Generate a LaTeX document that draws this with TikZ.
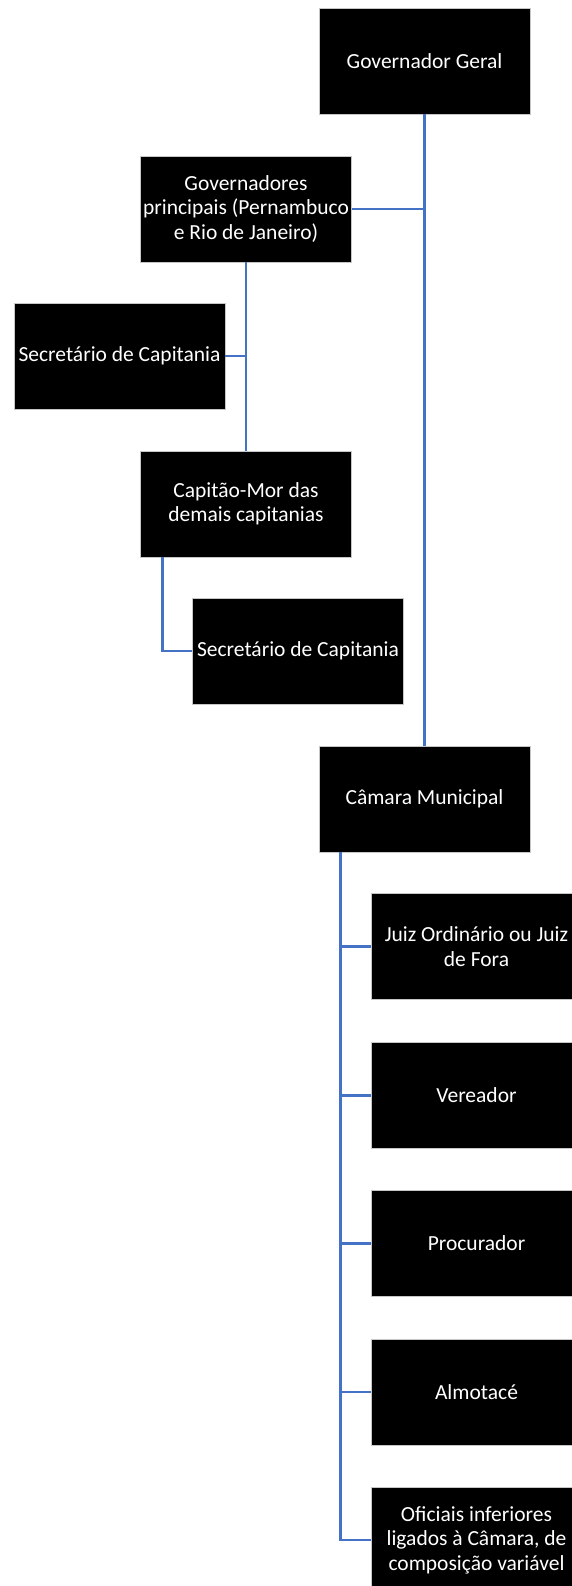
\documentclass[tikz,border=0pt]{standalone}
\usepackage{fontspec}
\setmainfont{Carlito}
\begin{document}
\begin{tikzpicture}[x=1pt,y=-1pt,
  orgbox/.style={draw=gray!45, line width=0.8pt, fill=black, text=white,
    minimum width=211pt, minimum height=106pt, inner sep=0pt, align=center,
    font=\fontsize{21.5}{24.5}\selectfont},
  link/.style={draw={rgb,255:red,68;green,114;blue,196}, line width=2.4pt}]
\useasboundingbox (0,0) rectangle (571,1586);
\node[orgbox] (gg) at (424.5,61) {Governador Geral};
\node[orgbox] (gp) at (246,209) {Governadores\\principais (Pernambuco\\e Rio de Janeiro)};
\node[orgbox] (s1) at (119.5,356) {Secretário de Capitania};
\node[orgbox] (cm) at (246,504) {Capitão-Mor das\\demais capitanias};
\node[orgbox] (s2) at (298,651) {Secretário de Capitania};
\node[orgbox] (cam) at (424.5,799) {Câmara Municipal};
\node[orgbox] (juiz) at (476.5,946.5) {Juiz Ordinário ou Juiz\\de Fora};
\node[orgbox] (ver) at (476.5,1095.5) {Vereador};
\node[orgbox] (pro) at (476.5,1243.5) {Procurador};
\node[orgbox] (alm) at (476.5,1392) {Almotacé};
\node[orgbox] (of) at (476.5,1540) {Oficiais inferiores\\ligados à Câmara, de\\composição variável};
% trunk
\draw[link] (gg.south) -- (cam.north);
\draw[link] (gp.east) -- (gp.east -| gg.south);
% governadores principais
\draw[link] (gp.south) -- (cm.north);
\draw[link] (s1.east) -- (s1.east -| gp.south);
% capitao-mor
\coordinate (cmx) at ([xshift=22.5pt]cm.south west);
\draw[link] (cmx) |- (s2.west);
% camara
\coordinate (camx) at ([xshift=22pt]cam.south west);
\draw[link] (camx) |- (of.west);
\draw[link] (juiz.west -| camx) -- (juiz.west);
\draw[link] (ver.west -| camx) -- (ver.west);
\draw[link] (pro.west -| camx) -- (pro.west);
\draw[link] (alm.west -| camx) -- (alm.west);
\end{tikzpicture}
\end{document}
